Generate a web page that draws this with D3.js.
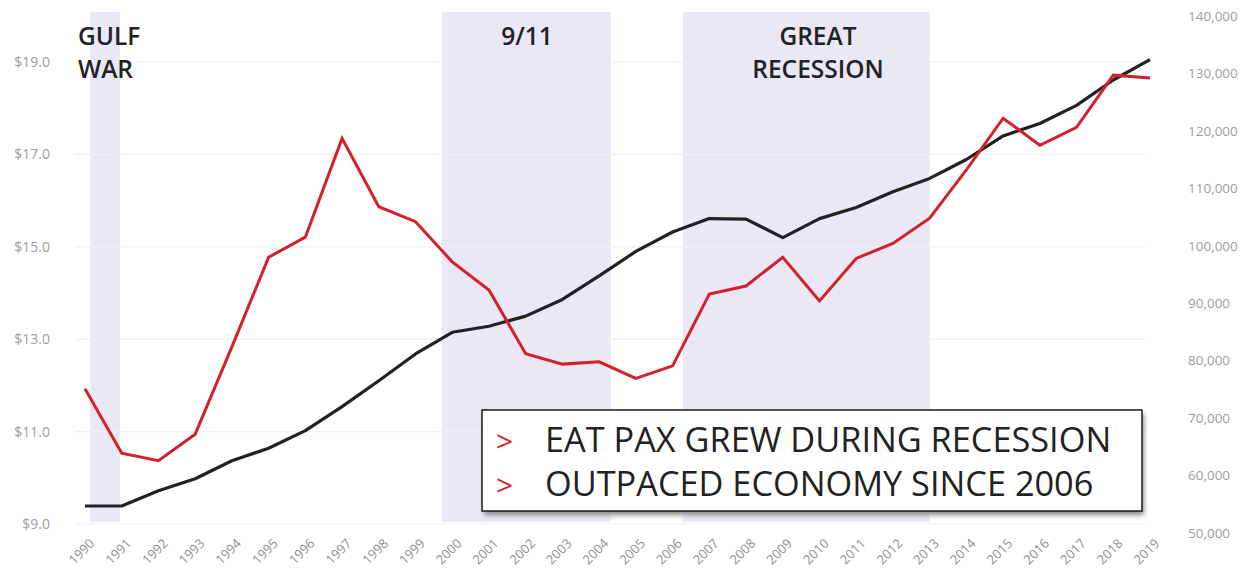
<!DOCTYPE html>
<html>
<head>
<meta charset="utf-8">
<script src="https://cdn.jsdelivr.net/npm/d3@7"></script>
<style>
  html, body { margin: 0; padding: 0; background: #ffffff; }
  svg { display: block; }
</style>
</head>
<body>
<svg id="chart" width="1256" height="579"></svg>
<script>
// Years on the x axis
const years = d3.range(1990, 2020);

// Real GDP, trillions of dollars (left axis)
const gdp = [9.39, 9.39, 9.72, 9.98, 10.37, 10.64, 11.02, 11.54, 12.10, 12.68,
             13.15, 13.28, 13.50, 13.86, 14.37, 14.90, 15.32, 15.61, 15.60, 15.20,
             15.61, 15.85, 16.19, 16.48, 16.89, 17.40, 17.67, 18.06, 18.61, 19.05];

// EAT passengers (right axis)
const pax = [75100, 63900, 62600, 67200, 82400, 98000, 101500, 118700, 106800, 104200,
             97200, 92300, 81200, 79400, 79800, 76900, 79100, 91600, 93000, 98000,
             90400, 97800, 100400, 104800, 113200, 122200, 117500, 120600, 129700, 129200];

// Tick values
const leftTicks = [9, 11, 13, 15, 17, 19];
const rightTicks = [50000, 60000, 70000, 80000, 90000, 100000, 110000, 120000, 130000, 140000];

// Shaded event periods (fractional years) and their labels
const eventNames = ["GULF|WAR", "9/11", "GREAT|RECESSION"];
const eventStarts = [1990.14, 1999.71, 2006.28];
const eventEnds = [1990.95, 2004.32, 2013.0];

// Callout lines
const notes = ["EAT PAX GREW DURING RECESSION", "OUTPACED ECONOMY SINCE 2006"];

const svg = d3.select("#chart");

const x = d3.scaleLinear().domain([1990, 2019]).range([85, 1150]);
const yL = d3.scaleLinear().domain([9, 19]).range([524, 62]);
const yR = d3.scaleLinear().domain([50000, 140000]).range([533, 16]);

const bandTop = 12, bandBottom = 522;
const font = "'Open Sans', sans-serif";

// shaded periods
svg.append("g").selectAll("rect")
  .data(eventStarts)
  .join("rect")
  .attr("x", (d) => x(d))
  .attr("width", (d, i) => x(eventEnds[i]) - x(d))
  .attr("y", bandTop)
  .attr("height", bandBottom - bandTop)
  .attr("fill", "#e9e8f4");

// faint horizontal gridlines at the left-axis ticks
svg.append("g").selectAll("line")
  .data(leftTicks)
  .join("line")
  .attr("x1", 75).attr("x2", 1145)
  .attr("y1", (d) => yL(d)).attr("y2", (d) => yL(d))
  .attr("stroke", "#f0f0f2")
  .attr("stroke-width", 1.2);

// left axis
const leftAxis = d3.axisLeft(yL).tickValues(leftTicks)
  .tickFormat((d) => "$" + d3.format(".1f")(d)).tickSize(0).tickPadding(0);
const gL = svg.append("g").attr("transform", "translate(50,0)").call(leftAxis);
gL.select(".domain").remove();
gL.selectAll("text")
  .attr("fill", "#9d9d9d")
  .attr("font-family", font)
  .attr("font-size", 14);

// right axis
const rightAxis = d3.axisRight(yR).tickValues(rightTicks)
  .tickFormat(d3.format(",")).tickSize(0).tickPadding(0);
const gR = svg.append("g").attr("transform", "translate(1188,0)").call(rightAxis);
gR.select(".domain").remove();
gR.selectAll("text")
  .attr("fill", "#9d9d9d")
  .attr("font-family", font)
  .attr("font-size", 13.5);

// bottom axis: year labels rotated 45 degrees, ending just right of each tick
const yearLabels = svg.append("g")
  .attr("font-family", font)
  .attr("font-size", 13)
  .attr("fill", "#8f8f8f")
  .attr("text-anchor", "end");
yearLabels.selectAll("text")
  .data(years)
  .join("text")
  .attr("transform", (d) => `translate(${x(d) + 7},541) rotate(-45)`)
  .attr("dy", "0.35em")
  .text(d3.format("d"));

// GDP line
svg.append("path")
  .datum(gdp)
  .attr("fill", "none")
  .attr("stroke", "#222222")
  .attr("stroke-width", 3.2)
  .attr("stroke-linejoin", "round")
  .attr("d", d3.line().x((d, i) => x(years[i])).y((d) => yL(d)));

// passenger line
svg.append("path")
  .datum(pax)
  .attr("fill", "none")
  .attr("stroke", "#d4202b")
  .attr("stroke-width", 3)
  .attr("stroke-linejoin", "miter")
  .attr("d", d3.line().x((d, i) => x(years[i])).y((d) => yR(d)));

// event labels
const labelX = [78, 527, 818];
const labelAnchor = ["start", "middle", "middle"];
eventNames.forEach((name, i) => {
  const t = svg.append("text")
    .attr("x", labelX[i])
    .attr("y", 45)
    .attr("text-anchor", labelAnchor[i])
    .attr("fill", "#222")
    .attr("font-family", font)
    .attr("font-weight", 600)
    .attr("font-size", 24.5);
  name.split("|").forEach((part, j) => {
    t.append("tspan").attr("x", labelX[i]).attr("dy", j === 0 ? 0 : 33).text(part);
  });
});

// callout box
const box = { x: 482, y: 410, w: 660, h: 101 };
const defs = svg.append("defs");
const f = defs.append("filter").attr("id", "shadow").attr("x", "-5%").attr("y", "-20%").attr("width", "110%").attr("height", "150%");
f.append("feGaussianBlur").attr("stdDeviation", 2.5);
svg.append("rect")
  .attr("x", box.x + 2).attr("y", box.y + 4)
  .attr("width", box.w).attr("height", box.h)
  .attr("fill", "#8a8a8a")
  .attr("filter", "url(#shadow)");
svg.append("rect")
  .attr("x", box.x).attr("y", box.y)
  .attr("width", box.w).attr("height", box.h)
  .attr("fill", "#ffffff")
  .attr("stroke", "#1a1a1a")
  .attr("stroke-width", 1.5);

const noteG = svg.append("g").selectAll("g").data(notes).join("g")
  .attr("transform", (d, i) => `translate(0,${452 + i * 44})`);
noteG.append("text")
  .attr("x", 496)
  .attr("fill", "#d4202b")
  .attr("font-family", font)
  .attr("font-size", 30)
  .text(">");
noteG.append("text")
  .attr("x", 545)
  .attr("fill", "#222")
  .attr("font-family", font)
  .attr("font-size", 34.3)
  .text((d) => d);
</script>
</body>
</html>
